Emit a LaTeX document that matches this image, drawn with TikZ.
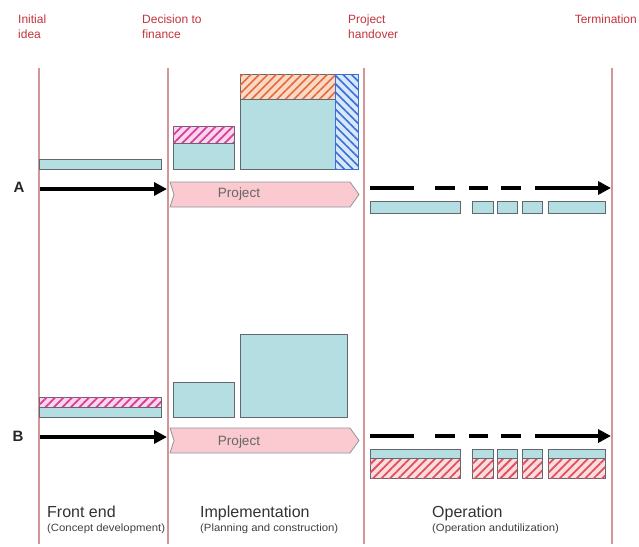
\documentclass[tikz,border=0pt]{standalone}
\usepackage{fontspec}
\setmainfont{Liberation Sans}
\usetikzlibrary{patterns.meta,arrows.meta}
\definecolor{cyanf}{RGB}{180,222,226}
\definecolor{boxln}{RGB}{95,105,110}
\definecolor{vline}{RGB}{210,150,150}
\definecolor{lblred}{RGB}{196,52,62}
\definecolor{projf}{RGB}{250,202,208}
\definecolor{pinkbg}{RGB}{252,215,235}
\definecolor{pinkln}{RGB}{215,60,160}
\definecolor{orbg}{RGB}{250,218,195}
\definecolor{orln}{RGB}{228,105,65}
\definecolor{blbg}{RGB}{215,232,250}
\definecolor{blln}{RGB}{60,110,215}
\definecolor{rdbg}{RGB}{252,220,222}
\definecolor{rdln}{RGB}{222,80,92}
\tikzset{
  cbox/.style={fill=cyanf,draw=boxln,line width=0.8pt},
  hatchpink/.style={draw=boxln,line width=0.8pt,fill=pinkbg,postaction={pattern={Lines[angle=45,distance=6pt,line width=1.8pt]},pattern color=pinkln}},
  hatchor/.style={draw=boxln,line width=0.8pt,fill=orbg,postaction={pattern={Lines[angle=45,distance=6pt,line width=1.6pt]},pattern color=orln}},
  hatchbl/.style={draw=blln,line width=0.8pt,fill=blbg,postaction={pattern={Lines[angle=-45,distance=6pt,line width=1.6pt]},pattern color=blln}},
  hatchrd/.style={draw=boxln,line width=0.8pt,fill=rdbg,postaction={pattern={Lines[angle=45,distance=6pt,line width=1.8pt]},pattern color=rdln}},
  phase/.style={draw=vline,line width=1.2pt},
  milestone/.style={text=lblred,font=\fontsize{12}{15}\selectfont,align=left,anchor=north west,inner sep=0pt},
  rowlbl/.style={font=\bfseries\fontsize{15}{16}\selectfont,inner sep=0pt,text=black!85},
  bigarrow/.style={line width=3.5pt,-{Triangle[length=13pt,width=13pt]}},
  dashseg/.style={line width=4.5pt},
  projarrow/.style={fill=projf,draw=boxln!70,line width=0.8pt},
  projtext/.style={text=black!60,font=\fontsize{13.5}{15}\selectfont},
  phasetitle/.style={font=\fontsize{16}{18}\selectfont,anchor=base west,inner sep=0pt,text=black!80},
  phasesub/.style={font=\fontsize{10.5}{12}\selectfont,anchor=base west,inner sep=0pt,text=black!75,xscale=1.08}
}
\begin{document}
\begin{tikzpicture}[x=1pt,y=-1pt]
\useasboundingbox[fill=white] (0,0) rectangle (639,546);
% phase lines
\foreach \xx/\nm in {39/l1,168/l2,364/l3,612/l4}{
  \coordinate (\nm t) at (\xx,68);
  \coordinate (\nm b) at (\xx,544);
  \draw[phase] (\nm t) -- (\nm b);
}
% milestone labels
\node[milestone] (m1) at (18,15) {Initial\\idea};
\node[milestone] (m2) at (142,15) {Decision to\\finance};
\node[milestone] (m3) at (348,15) {Project\\handover};
\node[milestone,anchor=north east] (m4) at (637,15) {Termination};
% ---- Row A ----
\node[rowlbl] (la) at (19,187.5) {A};
\draw[cbox] (39,159) rectangle (161,169);
\draw[hatchpink] (173,126) rectangle (234,143);
\draw[cbox] (173,143) rectangle (234,169);
\draw[hatchor] (240,74) rectangle (335,99);
\draw[cbox] (240,99) rectangle (335,169);
\draw[hatchbl] (335,74) rectangle (358,169);
\coordinate (a0) at (40,189);
\coordinate (a1) at (167,189);
\draw[bigarrow] (a0) -- (a1);
\draw[projarrow] (170,182) -- (350,182) -- (359,194.5) -- (350,207) -- (170,207) -- (174,194.5) -- cycle;
\node[projtext] (pa) at (239,194) {Project};
\foreach \u/\v in {370/414,435/455,469/488,501/521}{\draw[dashseg] (\u,188) -- (\v,188);}
\coordinate (ad0) at (535,188);
\coordinate (ad1) at (611,188);
\draw[bigarrow,line width=4.5pt] (ad0) -- (ad1);
\foreach \u/\v in {370/460,472/493,497/517,522/542,548/605}{\draw[cbox] (\u,201) rectangle (\v,213);}
% ---- Row B ----
\node[rowlbl] (lb) at (18,436.5) {B};
\draw[hatchpink] (39,397) rectangle (161,407);
\draw[cbox] (39,407) rectangle (161,417);
\draw[cbox] (173,382) rectangle (234,417);
\draw[cbox] (240,334) rectangle (347,417);
\coordinate (b0) at (40,437);
\coordinate (b1) at (167,437);
\draw[bigarrow] (b0) -- (b1);
\draw[projarrow] (170,428) -- (350,428) -- (359,440.5) -- (350,453) -- (170,453) -- (174,440.5) -- cycle;
\node[projtext] (pb) at (239,442) {Project};
\foreach \u/\v in {370/414,435/455,469/488,501/521}{\draw[dashseg] (\u,436) -- (\v,436);}
\coordinate (bd0) at (535,436);
\coordinate (bd1) at (611,436);
\draw[bigarrow,line width=4.5pt] (bd0) -- (bd1);
\foreach \u/\v in {370/460,472/493,497/517,522/542,548/605}{
  \draw[hatchrd] (\u,458) rectangle (\v,478);
  \draw[cbox] (\u,449) rectangle (\v,458);
}
% phase titles
\node[phasetitle] (p1) at (47,517) {Front end};
\node[phasesub] (s1) at (47,531) {(Concept development)};
\node[phasetitle] (p2) at (200,517) {Implementation};
\node[phasesub] (s2) at (200,531) {(Planning and construction)};
\node[phasetitle] (p3) at (432,517) {Operation};
\node[phasesub] (s3) at (432,531) {(Operation andutilization)};
\end{tikzpicture}
\end{document}
